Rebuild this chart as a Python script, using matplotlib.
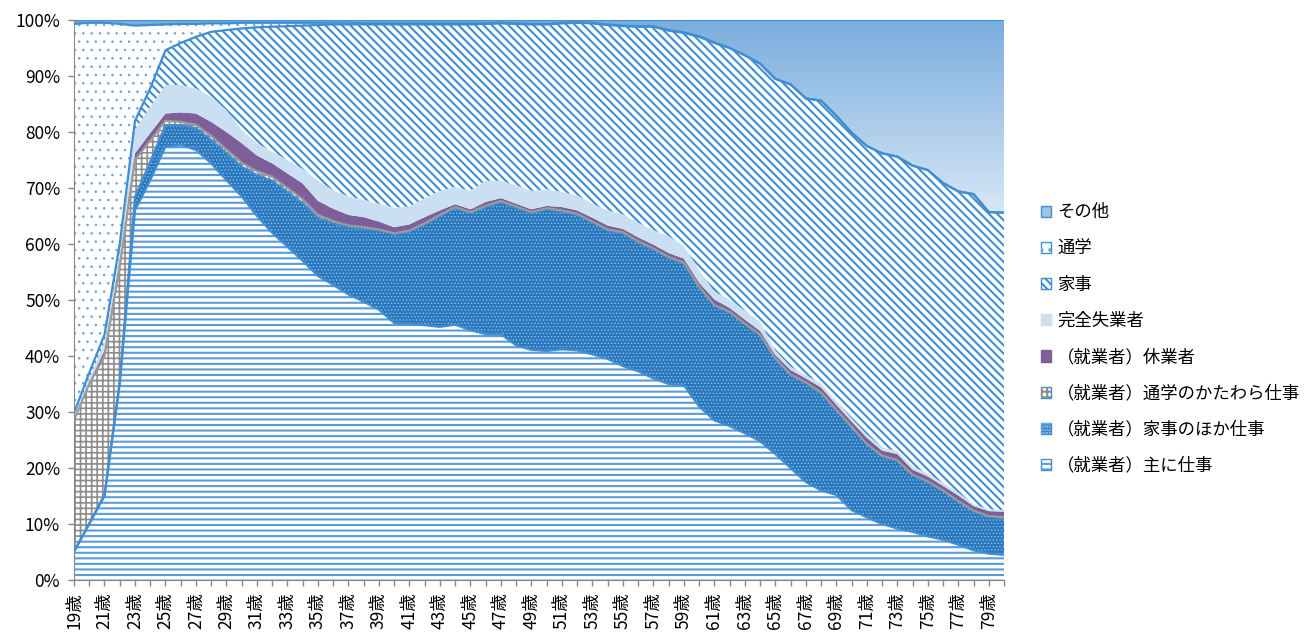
import numpy as np
import matplotlib
matplotlib.use('Agg')
import matplotlib.pyplot as plt
from matplotlib.patches import Patch
from matplotlib.colors import LinearSegmentedColormap
from matplotlib.legend_handler import HandlerTuple

plt.rcParams['font.family'] = ['Noto Sans CJK JP', 'DejaVu Sans']
plt.rcParams['hatch.linewidth'] = 1.5

ages = list(range(19, 81))
age_labels = [f'{a}歳' for a in ages]

names = ['（就業者）主に仕事', '（就業者）家事のほか仕事', '（就業者）通学のかたわら仕事',
         '（就業者）休業者', '完全失業者', '家事', '通学', 'その他']

main_work = [5.0, 10.0, 15.0, 35.0, 66.0, 71.4, 77.4, 77.7, 76.8, 74.4,
             71.4, 68.5, 65.0, 62.0, 59.5, 57.0, 54.3, 52.7, 51.0, 49.7,
             48.3, 45.9, 45.8, 45.5, 45.2, 45.6, 44.6, 43.9, 43.9, 41.9,
             41.1, 40.9, 41.2, 41.0, 40.3, 39.5, 38.2, 37.3, 36.0, 35.0,
             34.8, 31.0, 28.5, 27.5, 26.2, 24.8, 22.5, 20.0, 17.5, 16.0,
             15.2, 12.5, 11.2, 10.0, 9.2, 8.6, 7.8, 7.2, 6.3, 5.3,
             4.7, 4.5]
house_work = [0.1, 0.1, 0.2, 0.5, 2.4, 3.3, 3.8, 3.5, 3.9, 4.2,
              4.8, 5.3, 7.3, 9.3, 9.8, 10.3, 10.4, 11.0, 12.0, 13.1,
              14.1, 15.8, 16.4, 18.0, 19.8, 20.8, 20.9, 22.7, 23.6, 24.6,
              24.4, 25.3, 24.6, 24.2, 23.5, 22.9, 23.7, 23.0, 23.0, 22.5,
              21.7, 21.2, 20.5, 20.3, 19.5, 18.9, 17.0, 16.6, 17.7, 17.4,
              15.1, 14.8, 13.0, 12.1, 12.1, 10.1, 9.7, 8.7, 7.7, 7.0,
              6.6, 6.6]
school_work = [23.4, 24.9, 24.8, 20.5, 6.6, 3.8, 0.8, 0.6, 0.6, 0.7,
               0.7, 0.7, 0.7, 0.7, 0.7, 0.7, 0.5, 0.4, 0.3, 0.2,
               0.2, 0.2, 0.2, 0.2, 0.2, 0.2, 0.2, 0.2, 0.2, 0.2,
               0.2, 0.2, 0.2, 0.2, 0.2, 0.2, 0.2, 0.2, 0.2, 0.2,
               0.2, 0.2, 0.1, 0.1, 0.1, 0.1, 0.1, 0.1, 0.1, 0.1,
               0.1, 0.1, 0.1, 0.1, 0.1, 0.1, 0.1, 0.1, 0.1, 0.1,
               0.1, 0.1]
on_leave = [0.3, 0.3, 1.0, 1.0, 1.2, 1.3, 1.3, 1.7, 2.0, 2.5,
            3.1, 3.5, 2.8, 2.4, 2.6, 2.8, 2.5, 2.2, 1.9, 1.8,
            1.4, 1.1, 1.1, 1.1, 0.8, 0.5, 0.5, 0.7, 0.5, 0.5,
            0.5, 0.4, 0.6, 0.6, 0.7, 0.7, 0.6, 0.7, 0.7, 0.7,
            0.7, 0.7, 1.0, 0.7, 0.7, 0.7, 0.6, 0.8, 0.7, 0.9,
            0.9, 0.9, 1.1, 0.9, 1.1, 0.9, 0.9, 0.8, 1.0, 0.8,
            0.9, 1.0]
unemployed = [0.5, 0.7, 1.5, 1.5, 4.2, 4.7, 5.1, 4.9, 4.5, 4.5,
              3.9, 2.4, 2.2, 2.1, 2.4, 2.6, 3.6, 3.3, 3.3, 3.1,
              3.2, 3.5, 3.2, 3.4, 3.5, 3.1, 3.3, 3.8, 3.1, 3.3,
              3.3, 3.0, 2.7, 2.7, 2.5, 2.7, 2.6, 2.6, 2.6, 3.0,
              2.3, 2.3, 1.4, 1.5, 1.6, 1.6, 0.8, 0.6, 0.6, 0.7,
              0.6, 0.6, 0.6, 0.6, 0.5, 0.6, 0.5, 0.5, 0.5, 0.4,
              0.3, 0.3]
housework = [0.5, 1.0, 1.3, 1.5, 1.6, 3.3, 6.2, 7.5, 9.2, 11.6,
             14.3, 18.1, 20.7, 22.3, 23.9, 25.6, 27.8, 29.6, 30.7, 31.3,
             32.0, 32.7, 32.5, 31.0, 29.7, 29.0, 29.7, 28.0, 28.1, 28.8,
             29.7, 29.4, 30.1, 30.8, 32.2, 33.1, 33.6, 35.0, 36.3, 36.7,
             38.0, 41.6, 44.4, 44.9, 45.6, 46.1, 48.5, 50.4, 49.4, 50.5,
             51.0, 51.0, 51.5, 52.5, 52.6, 53.7, 54.2, 53.6, 53.8, 55.3,
             53.1, 53.1]
school = [69.5, 62.5, 55.7, 39.3, 17.0, 11.3, 4.6, 3.4, 2.3, 1.5,
          1.2, 1.0, 0.8, 0.7, 0.6, 0.5, 0.4, 0.3, 0.3, 0.2,
          0.2, 0.2, 0.2, 0.2, 0.2, 0.2, 0.2, 0.1, 0.1, 0.1,
          0.1, 0.1, 0.1, 0.1, 0.1, 0.1, 0.1, 0.1, 0.1, 0.1,
          0.1, 0.1, 0.1, 0.0, 0.0, 0.0, 0.0, 0.0, 0.0, 0.0,
          0.0, 0.0, 0.0, 0.0, 0.0, 0.0, 0.0, 0.0, 0.0, 0.0,
          0.0, 0.0]
other = [0.7, 0.5, 0.5, 0.7, 1.0, 0.9, 0.8, 0.7, 0.7, 0.6,
         0.6, 0.5, 0.5, 0.5, 0.5, 0.5, 0.5, 0.5, 0.5, 0.6,
         0.6, 0.6, 0.6, 0.6, 0.6, 0.6, 0.6, 0.6, 0.5, 0.6,
         0.7, 0.7, 0.5, 0.4, 0.5, 0.8, 1.0, 1.1, 1.1, 1.8,
         2.2, 2.9, 4.0, 5.0, 6.3, 7.8, 10.5, 11.5, 14.0, 14.4,
         17.1, 20.1, 22.5, 23.8, 24.4, 26.0, 26.8, 29.1, 30.6, 31.1,
         34.3, 34.4]

series = [main_work, house_work, school_work, on_leave, unemployed, housework, school, other]

BLUE = '#3F8ED3'
# (face, hatch, hatchcolor, hatch linewidth, top-line color)
styles = [
    ('white', '---', '#5A9BD8', 1.5, BLUE),
    ('#2A78BE', '.....', '#9CC6EC', 0.5, BLUE),
    ('white', '+++', '#8C8C8C', 1.2, '#9A9A9A'),
    ('#7F5F99', None, None, None, None),
    ('#CADFF1', None, None, None, None),
    ('white', '\\\\\\\\', '#3F8ED3', 1.5, BLUE),
    ('white', '..', '#6AA6DC', 0.6, BLUE),
    (None, None, None, None, BLUE),
]

fig = plt.figure(figsize=(13.11, 6.32), dpi=100)
ax = fig.add_axes([74/1311, 52/632, 930/1311, 560/632])

x = np.array(ages, dtype=float)
data = np.array(series, dtype=float)
data = data / data.sum(axis=0) * 100.0
cum = np.vstack([np.zeros(len(ages)), np.cumsum(data, axis=0)])


def set_hlw(artist, lw):
    if lw is not None and hasattr(artist, 'set_hatch_linewidth'):
        try:
            artist.set_hatch_linewidth(lw)
        except Exception:
            pass


for i, (face, hatch, hcol, hlw, lcol) in enumerate(styles):
    lo, hi = cum[i], cum[i + 1]
    if face is not None:
        ax.fill_between(x, lo, hi, facecolor=face, linewidth=0, zorder=1 + i * 0.01)
    else:
        poly = ax.fill_between(x, lo, hi, facecolor='none', linewidth=0, zorder=1)
        cmap = LinearSegmentedColormap.from_list('g', ['#D9E8F7', '#79ADDD'])
        grad = np.linspace(0, 1, 256).reshape(-1, 1)
        im = ax.imshow(grad, extent=[x[0], x[-1], 65, 100], origin='lower',
                       aspect='auto', cmap=cmap, zorder=1)
        im.set_clip_path(poly.get_paths()[0], transform=ax.transData)
    if hatch is not None:
        h = ax.fill_between(x, lo, hi, facecolor='none', edgecolor=hcol, hatch=hatch,
                            linewidth=0, zorder=1.5)
        set_hlw(h, hlw)
for i, (face, hatch, hcol, hlw, lcol) in enumerate(styles):
    if lcol is not None:
        ax.plot(x, cum[i + 1], color=lcol, linewidth=1.6, zorder=3, solid_joinstyle='round')

ax.set_xlim(19, 80)
ax.set_ylim(0, 100)
ax.set_yticks(range(0, 101, 10))
ax.set_yticklabels([f'{v}%' for v in range(0, 101, 10)], fontsize=12.5)
ax.set_xticks(ages)
ax.set_xticklabels([lab if (a - 19) % 2 == 0 else '' for a, lab in zip(ages, age_labels)],
                   rotation=90, fontsize=12.5)
ax.tick_params(axis='both', direction='out', length=4, color='#868686', width=1)
ax.tick_params(axis='x', pad=5)
ax.tick_params(axis='y', pad=6)
for s in ['top', 'right']:
    ax.spines[s].set_visible(False)
for s in ['left', 'bottom']:
    ax.spines[s].set_color('#868686')
    ax.spines[s].set_zorder(4)

handles = []
for i, (face, hatch, hcol, hlw, lcol) in enumerate(styles):
    if i == 7:
        handles.append(Patch(facecolor='#9DC3E6', edgecolor=BLUE, linewidth=1.0))
    elif hatch is None:
        handles.append(Patch(facecolor=face, edgecolor=face, linewidth=1.0))
    else:
        hp = Patch(facecolor='none', edgecolor=hcol, hatch=hatch, linewidth=0)
        set_hlw(hp, hlw)
        handles.append((Patch(facecolor=face, edgecolor=BLUE, linewidth=1.0), hp))

leg = fig.legend(handles[::-1], names[::-1], loc='center left',
                 bbox_to_anchor=(1032/1311, 1 - 339/632), frameon=False,
                 fontsize=12.5, handlelength=0.6, handleheight=0.6,
                 handletextpad=0.35, labelspacing=1.05, borderpad=0,
                 handler_map={tuple: HandlerTuple(ndivide=1, pad=0)})

fig.savefig('out.png', dpi=100)
